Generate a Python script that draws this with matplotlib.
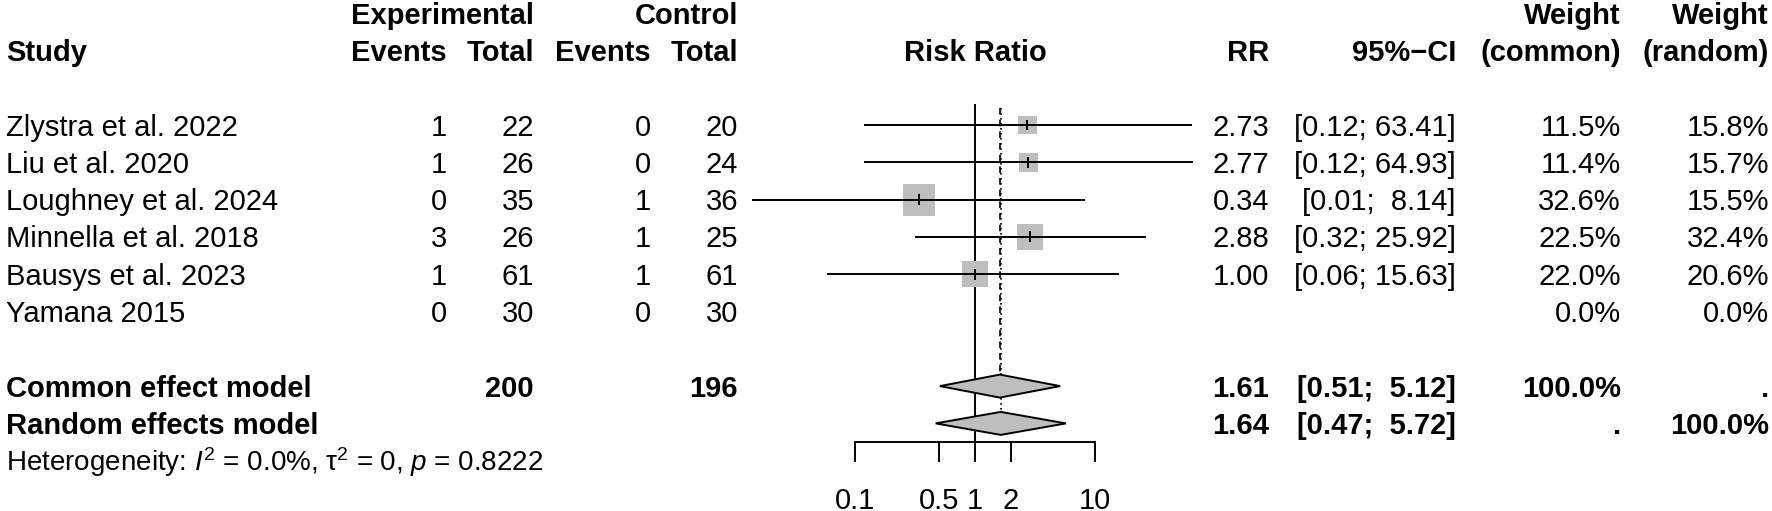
import numpy as np
import matplotlib
matplotlib.use("Agg")
import matplotlib.pyplot as plt
from matplotlib.patches import Polygon

plt.rcParams['font.family'] = ['Liberation Sans', 'DejaVu Sans']
plt.rcParams['mathtext.fontset'] = 'custom'
plt.rcParams['mathtext.rm'] = 'Liberation Sans'
plt.rcParams['mathtext.it'] = 'Liberation Sans:italic'

# study data
studies = ["Zlystra et al. 2022", "Liu et al. 2020", "Loughney et al. 2024",
           "Minnella et al. 2018", "Bausys et al. 2023", "Yamana 2015"]
exp_events = [1, 1, 0, 3, 1, 0]
exp_total = [22, 26, 35, 26, 61, 30]
ctrl_events = [0, 0, 1, 1, 1, 0]
ctrl_total = [20, 24, 36, 25, 61, 30]
rr = [2.73, 2.77, 0.34, 2.88, 1.00, np.nan]
ci_low = [0.12, 0.12, 0.014, 0.32, 0.06, np.nan]
ci_high = [63.41, 64.93, 8.14, 25.92, 15.63, np.nan]
w_common = [11.5, 11.4, 32.6, 22.5, 22.0, 0.0]
w_random = [15.8, 15.7, 15.5, 32.4, 20.6, 0.0]

# pooled results
common_est = [1.61, 0.51, 5.12]
random_est = [1.64, 0.47, 5.72]
exp_sum = 200
ctrl_sum = 196
het_text = "Heterogeneity: $I^2$ = 0.0%, \u03c4$^2$ = 0, $p$ = 0.8222"

axis_ticks = [0.1, 0.5, 1, 2, 10]
tick_labels = ["0.1", "0.5", "1", "2", "10"]

W, H = 1772, 511
ROW0, ROWH = 125, 37.3
FS = 21
GRAY = "#BEBEBE"


def row(ypx):
    # pixel height -> row units
    return (ypx - ROW0) / ROWH


BASE = 10.5 / ROWH   # baseline offset below row centre

fig = plt.figure(figsize=(W / 100, H / 100), dpi=100)
ylim = (row(H), row(0))

tax = fig.add_axes([0, 0, 1, 1])
tax.set_xlim(0, W)
tax.set_ylim(*ylim)
tax.axis('off')

fax = fig.add_axes([735 / W, 0, 480 / W, 1])
fax.set_xscale('log')
fax.set_xlim(0.01, 100)
fax.set_ylim(*ylim)
fax.axis('off')

# column right edges (px)
c_study = 6
c_ee, c_et, c_ce, c_ct = 447, 534, 651, 738
c_rr, c_ci, c_wc, c_wr = 1269, 1456, 1621, 1769


def txt(x, r, s, ha='right', bold=False, size=FS):
    tax.text(x, r + BASE, s, ha=ha, va='baseline', fontsize=size,
             fontweight='bold' if bold else 'normal')


# header
txt(c_et, -3, "Experimental", bold=True)
txt(c_ct, -3, "Control", bold=True)
txt(c_wc, -3, "Weight", bold=True)
txt(c_wr, -3, "Weight", bold=True)
txt(c_study, -2, "Study", ha='left', bold=True)
txt(c_ee, -2, "Events", bold=True)
txt(c_et, -2, "Total", bold=True)
txt(c_ce, -2, "Events", bold=True)
txt(c_ct, -2, "Total", bold=True)
fax.text(1, -2 + BASE, "Risk Ratio", ha='center', va='baseline',
         fontsize=FS, fontweight='bold')
txt(c_rr, -2, "RR", bold=True)
txt(c_ci, -2, "95%\u2212CI", bold=True)
txt(c_wc, -2, "(common)", bold=True)
txt(c_wr, -2, "(random)", bold=True)

# study rows
for i, name in enumerate(studies):
    txt(c_study, i, name, ha='left')
    txt(c_ee, i, str(exp_events[i]))
    txt(c_et, i, str(exp_total[i]))
    txt(c_ce, i, str(ctrl_events[i]))
    txt(c_ct, i, str(ctrl_total[i]))
    if not np.isnan(rr[i]):
        txt(c_rr, i, f"{rr[i]:.2f}")
        txt(c_ci, i, f"[{ci_low[i]:.2f}; {ci_high[i]:5.2f}]")
        side = 5.6 * np.sqrt(w_common[i]) * 0.72
        fax.scatter([rr[i]], [i], s=side ** 2, marker='s', color=GRAY,
                    edgecolors='none', zorder=2)
        fax.plot([ci_low[i], ci_high[i]], [i, i], color='black', lw=1.4,
                 zorder=3, clip_on=False)
        fax.plot([rr[i], rr[i]], [i - 0.12, i + 0.12], color='black', lw=1.4,
                 zorder=4)
    txt(c_wc, i, f"{w_common[i]:.1f}%")
    txt(c_wr, i, f"{w_random[i]:.1f}%")

# pooled rows
r_c, r_r = 7, 8
txt(c_study, r_c, "Common effect model", ha='left', bold=True)
txt(c_et, r_c, str(exp_sum), bold=True)
txt(c_ct, r_c, str(ctrl_sum), bold=True)
txt(c_rr, r_c, f"{common_est[0]:.2f}", bold=True)
txt(c_ci, r_c, f"[{common_est[1]:.2f}; {common_est[2]:5.2f}]", bold=True)
txt(c_wc, r_c, "100.0%", bold=True)
txt(c_wr, r_c, ".", bold=True)

txt(c_study, r_r, "Random effects model", ha='left', bold=True)
txt(c_rr, r_r, f"{random_est[0]:.2f}", bold=True)
txt(c_ci, r_r, f"[{random_est[1]:.2f}; {random_est[2]:5.2f}]", bold=True)
txt(c_wc, r_r, ".", bold=True)
txt(c_wr, r_r, "100.0%", bold=True)

txt(c_study, 9, het_text, ha='left', size=FS - 1)

# diamonds
hh = 11.5 / ROWH
for r, (est, lo, hi) in [(r_c, common_est), (r_r, random_est)]:
    fax.add_patch(Polygon([(lo, r), (est, r - hh), (hi, r), (est, r + hh)],
                          closed=True, facecolor=GRAY, edgecolor='black',
                          lw=1.4, zorder=3))

# reference lines
fax.plot([1, 1], [row(105), 8.5], color='black', lw=1.4, zorder=1)
fax.plot([common_est[0]] * 2, [row(108), r_c - hh], color='black', lw=1.2,
         ls=(0, (4, 3)), zorder=1)
fax.plot([random_est[0]] * 2, [row(108), r_r - hh], color='black', lw=1.2,
         ls=(0, (1, 2)), zorder=1)

# x axis
fax.plot([axis_ticks[0], axis_ticks[-1]], [8.5, 8.5], color='black', lw=1.4)
for t, lab in zip(axis_ticks, tick_labels):
    fax.plot([t, t], [8.5, 9.0], color='black', lw=1.4)
    fax.text(t, row(498) + BASE, lab, ha='center', va='baseline', fontsize=FS)

plt.savefig("out.png", dpi=100)
